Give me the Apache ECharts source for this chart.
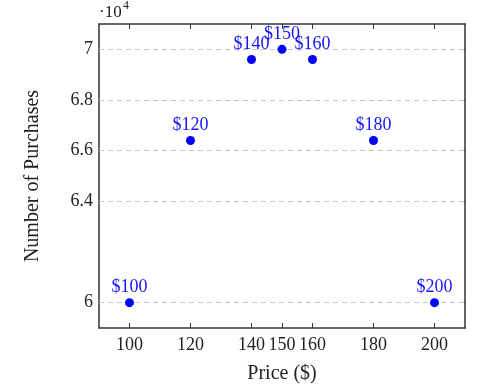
<!DOCTYPE html>
<html>
<head>
<meta charset="utf-8">
<script src="https://cdn.jsdelivr.net/npm/echarts@6/dist/echarts.min.js"></script>
<style>html,body{margin:0;padding:0;background:#fff;}#c{width:501px;height:392px;}</style>
</head>
<body>
<div id="c"></div>
<script>
const prices = [100, 120, 140, 150, 160, 180, 200];
const purchases = [60000, 66400, 69600, 70000, 69600, 66400, 60000];
const pointLabels = ['$100', '$120', '$140', '$150', '$160', '$180', '$200'];
const xTicks = [100, 120, 140, 150, 160, 180, 200];
const yTicks = [60000, 64000, 66000, 68000, 70000];

const FONT = 'Liberation Serif';
const chart = echarts.init(document.getElementById('c'));
const boxColor = '#333';
const tickBase = {show: true, inside: true, length: 5, lineStyle: {color: boxColor, width: 1}};

chart.setOption({
  animation: false,
  grid: {left: 99, top: 24, width: 366, height: 304, containLabel: false},
  xAxis: [
    {
      type: 'value', min: 90, max: 210, position: 'bottom',
      name: 'Price ($)', nameLocation: 'middle', nameGap: 36,
      nameTextStyle: {fontFamily: FONT, fontSize: 20, color: '#222'},
      axisLine: {show: true, lineStyle: {color: boxColor, width: 1.5}},
      axisTick: Object.assign({customValues: xTicks}, tickBase),
      axisLabel: {customValues: xTicks, fontFamily: FONT, fontSize: 18, color: '#222', margin: 8},
      splitLine: {show: false}
    },
    {
      type: 'value', min: 90, max: 210, position: 'top',
      axisLine: {show: true, lineStyle: {color: boxColor, width: 1.5}},
      axisTick: Object.assign({customValues: xTicks}, tickBase),
      axisLabel: {show: false},
      splitLine: {show: false}
    }
  ],
  yAxis: [
    {
      type: 'value', min: 59000, max: 71000, position: 'left',
      name: 'Number of Purchases', nameLocation: 'middle', nameGap: 56, nameRotate: 90,
      nameTextStyle: {fontFamily: FONT, fontSize: 20, color: '#222'},
      axisLine: {show: true, lineStyle: {color: boxColor, width: 1.5}},
      axisTick: Object.assign({customValues: yTicks}, tickBase),
      axisLabel: {customValues: yTicks, fontFamily: FONT, fontSize: 18, color: '#222', margin: 6,
        formatter: v => String(Math.round(v / 1000) / 10)},
      splitLine: {show: false}
    },
    {
      type: 'value', min: 59000, max: 71000, position: 'right',
      axisLine: {show: true, lineStyle: {color: boxColor, width: 1.5}},
      axisTick: Object.assign({customValues: yTicks}, tickBase),
      axisLabel: {show: false},
      splitLine: {show: false}
    }
  ],
  graphic: [
    {type: 'text', left: 99, top: 4, style: {text: '·10', fontFamily: FONT, fontSize: 17, fill: '#222'}},
    {type: 'text', left: 123, top: 0, style: {text: '4', fontFamily: FONT, fontSize: 12, fill: '#222'}}
  ],
  series: [
    {
      type: 'line', data: [], z: 1, silent: true,
      markLine: {
        silent: true, symbol: 'none', animation: false,
        label: {show: false},
        lineStyle: {color: '#c4c4c4', type: [5, 4], width: 1},
        data: yTicks.map(v => ({yAxis: v}))
      }
    },
    {
      type: 'scatter', z: 5,
      symbol: 'circle', symbolSize: 9,
      itemStyle: {color: '#0000ff', opacity: 1},
      data: prices.map((p, i) => [p, purchases[i]]),
      label: {
        show: true, position: 'top', distance: 2,
        formatter: params => pointLabels[params.dataIndex],
        fontFamily: FONT, fontSize: 18, color: '#1515ff'
      }
    }
  ]
});
</script>
</body>
</html>
